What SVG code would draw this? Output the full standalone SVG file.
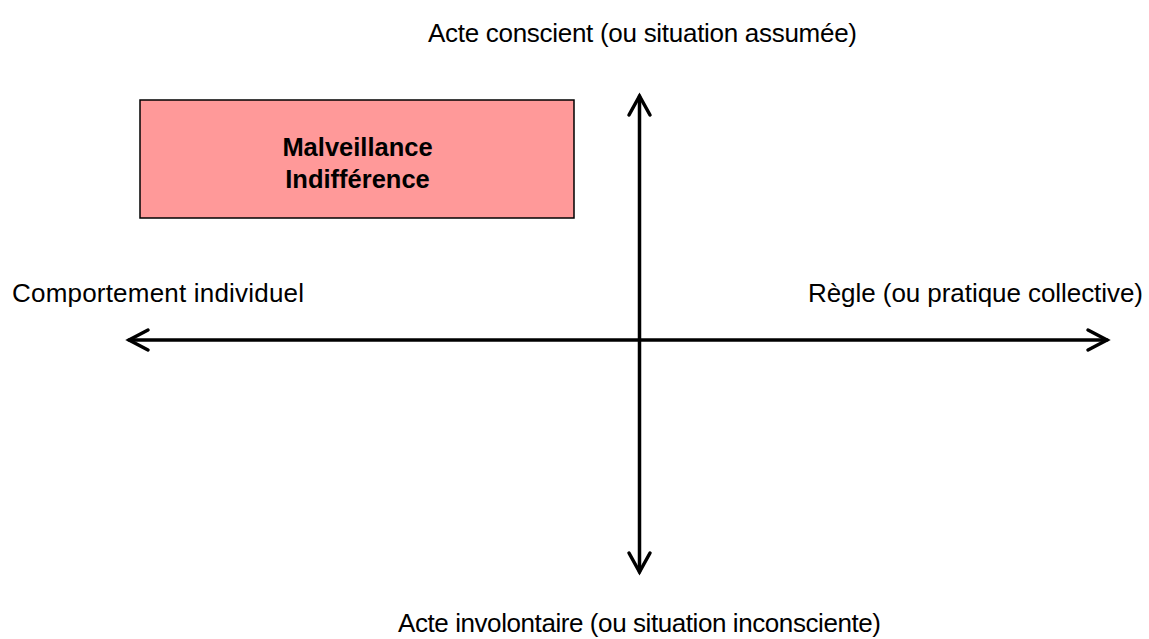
<svg xmlns="http://www.w3.org/2000/svg" width="1149" height="639" viewBox="0 0 1149 639">
<style>
.lbl{font-family:"Liberation Sans",Arial,sans-serif;font-size:26px;fill:#000}
.bold{font-family:"Liberation Sans",Arial,sans-serif;font-size:25.5px;font-weight:bold;fill:#000}
.ax{stroke:#000;stroke-width:3.5;fill:none;stroke-linecap:round;stroke-linejoin:miter}
</style>
<rect width="1149" height="639" fill="#fff"/>
<g id="box">
<rect x="140" y="100" width="434" height="118" fill="#FF9999" stroke="#000" stroke-width="1.5"/>
<text class="bold" x="357.5" y="156" text-anchor="middle">Malveillance</text>
<text class="bold" x="357.5" y="188" text-anchor="middle">Indifférence</text>
</g>
<g id="connectors">
<path class="ax" d="M129,340 H1107"/>
<path class="ax" d="M148,330 L129,340 L148,350"/>
<path class="ax" d="M1088,330 L1107,340 L1088,350"/>
<path class="ax" d="M639.5,96 V572"/>
<path class="ax" d="M629,115 L639.5,96 L650,115"/>
<path class="ax" d="M629,553 L639.5,572 L650,553"/>
</g>
<g id="labels">
<text class="lbl" x="428" y="42" textLength="429">Acte conscient (ou situation assumée)</text>
<text class="lbl" x="12" y="302" textLength="292">Comportement individuel</text>
<text class="lbl" x="808" y="302" textLength="335">Règle (ou pratique collective)</text>
<text class="lbl" x="398" y="632" textLength="483">Acte involontaire (ou situation inconsciente)</text>
</g>
</svg>
